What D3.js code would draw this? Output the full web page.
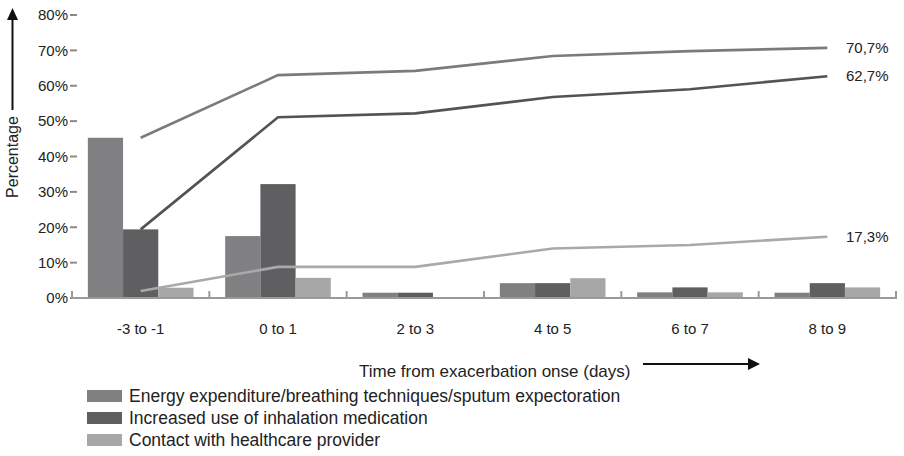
<!DOCTYPE html>
<html><head><meta charset="utf-8">
<script src="https://cdn.jsdelivr.net/npm/d3@7"></script>
<style>body{margin:0;background:#fff}svg{display:block}text{font-family:"Liberation Sans",Arial,sans-serif;fill:#222}</style>
</head><body><svg id="c" width="904" height="456"></svg>
<script>
const categories = ["-3 to -1","0 to 1","2 to 3","4 to 5","6 to 7","8 to 9"];
const seriesNames = ["Energy expenditure/breathing techniques/sputum expectoration","Increased use of inhalation medication","Contact with healthcare provider"];
const barEnergy = [45.3, 17.5, 1.5, 4.2, 1.6, 1.5];
const barInhal  = [19.4, 32.2, 1.5, 4.2, 3.0, 4.2];
const barContact= [2.9, 5.7, 0, 5.6, 1.6, 3.0];
const lineEnergy = [45.3, 63.0, 64.2, 68.4, 69.8, 70.7];
const lineInhal  = [19.4, 51.1, 52.2, 56.8, 59.0, 62.7];
const lineContact= [2.0, 8.8, 8.8, 14.0, 15.0, 17.3];
const endLabels = ["70,7%","62,7%","17,3%"];
const yTicks = [0,10,20,30,40,50,60,70,80];
const xTitle = "Time from exacerbation onse (days)";
const yTitle = "Percentage";

const barColors = ["#808082","#5f5f61","#a7a7a8"];
const lineColors = ["#7b7b7c","#535355","#a9a9aa"];

const svg = d3.select("#c");
const x0 = d3.scaleBand().domain(categories).range([72, 896]).padding(0);
const x1 = d3.scaleBand().domain([0,1,2]).range([0, x0.bandwidth()]).paddingInner(0).paddingOuter(0.45);
const y = d3.scaleLinear().domain([0, 80]).range([298, 15]);

// y ticks
const yAxis = svg.append("g");
yTicks.forEach(t => {
  yAxis.append("line").attr("x1", 70).attr("x2", 77).attr("y1", y(t)).attr("y2", y(t))
    .attr("stroke", "#8a8a8a").attr("stroke-width", 2);
  yAxis.append("text").attr("x", 68).attr("y", y(t)).attr("dy", "0.35em")
    .attr("text-anchor", "end").attr("font-size", 15).text(t + "%");
});

// bars
const bars = [barEnergy, barInhal, barContact];
bars.forEach((arr, si) => {
  svg.append("g").selectAll("rect").data(arr).join("rect")
    .attr("x", (d, i) => x0(categories[i]) + x1(si))
    .attr("width", x1.bandwidth())
    .attr("y", d => y(d))
    .attr("height", d => y(0) - y(d))
    .attr("fill", barColors[si]);
});

// baseline
svg.append("line").attr("x1", 72).attr("x2", 897).attr("y1", 298).attr("y2", 298)
  .attr("stroke", "#9a9a9a").attr("stroke-width", 2);
// group separators
const seps = categories.map(c => x0(c)).concat([x0.range()[1]]);
seps.forEach(s => {
  svg.append("line").attr("x1", s).attr("x2", s).attr("y1", 298).attr("y2", 291)
    .attr("stroke", "#9a9a9a").attr("stroke-width", 2);
});

// lines
const lines = [lineEnergy, lineInhal, lineContact];
const lineGen = d3.line().x((d, i) => x0(categories[i]) + x0.bandwidth() / 2).y(d => y(d));
lines.forEach((arr, si) => {
  svg.append("path").datum(arr).attr("d", lineGen).attr("fill", "none")
    .attr("stroke", lineColors[si]).attr("stroke-width", 2.6);
  svg.append("text").attr("x", 846).attr("y", y(arr[arr.length - 1])).attr("dy", "0.35em")
    .attr("font-size", 15).text(endLabels[si]);
});

// x labels
svg.append("g").selectAll("text").data(categories).join("text")
  .attr("x", d => x0(d) + x0.bandwidth() / 2).attr("y", 334)
  .attr("text-anchor", "middle").attr("font-size", 15).text(d => d);

// x title + arrow
svg.append("text").attr("x", 359).attr("y", 377).attr("font-size", 17).text(xTitle);
svg.append("line").attr("x1", 643).attr("x2", 750).attr("y1", 364).attr("y2", 364)
  .attr("stroke", "#111").attr("stroke-width", 2);
svg.append("path").attr("d", "M748,358L760,364L748,370Z").attr("fill", "#111");

// y title + arrow
svg.append("text").attr("transform", "translate(18,157) rotate(-90)")
  .attr("text-anchor", "middle").attr("font-size", 16).text(yTitle);
svg.append("line").attr("x1", 12.5).attr("x2", 12.5).attr("y1", 110).attr("y2", 18)
  .attr("stroke", "#111").attr("stroke-width", 2);
svg.append("path").attr("d", "M7,20L12.5,8L18,20Z").attr("fill", "#111");

// legend
const legY = [396, 418, 440];
seriesNames.forEach((n, i) => {
  svg.append("rect").attr("x", 87).attr("y", legY[i] - 6).attr("width", 35).attr("height", 12).attr("fill", barColors[i]);
  svg.append("text").attr("x", 129).attr("y", legY[i]).attr("dy", "0.35em").attr("font-size", 17.5).text(n);
});
</script></body></html>
